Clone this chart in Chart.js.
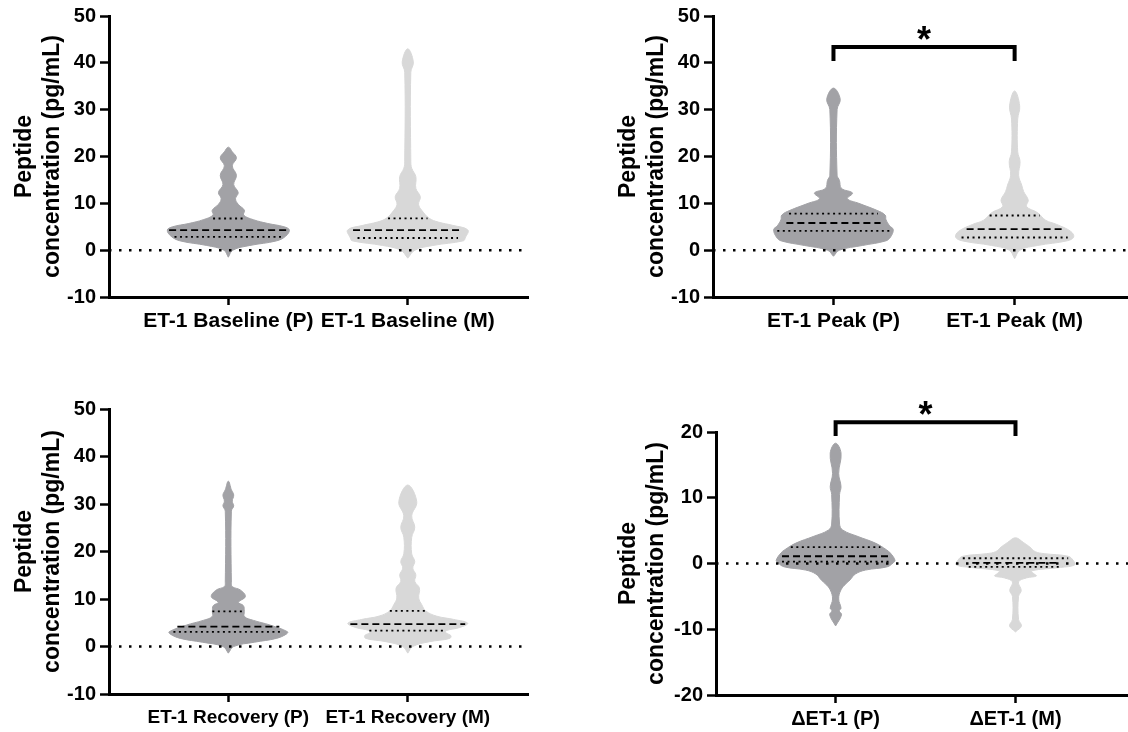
<!DOCTYPE html>
<html>
<head>
<meta charset="utf-8">
<script src="https://cdn.jsdelivr.net/npm/chart.js@4.4.1/dist/chart.umd.min.js"></script>
<style>
  html, body { margin: 0; padding: 0; background: #fff; overflow: hidden; }
  #wrap { position: relative; width: 1128px; height: 732px; overflow: hidden; }
  canvas { position: absolute; }
</style>
</head>
<body>
<div id="wrap">
  <canvas id="baselineChart" width="560" height="360" style="left:0;top:0"></canvas>
  <canvas id="peakChart" width="532" height="360" style="left:604px;top:0"></canvas>
  <canvas id="recoveryChart" width="560" height="340" style="left:0;top:392px"></canvas>
  <canvas id="deltaChart" width="532" height="340" style="left:604px;top:392px"></canvas>
</div>
<script>
// group names on the x axis
const baselineLabels = ['ET-1 Baseline (P)', 'ET-1 Baseline (M)'];
const peakLabels = ['ET-1 Peak (P)', 'ET-1 Peak (M)'];
const recoveryLabels = ['ET-1 Recovery (P)', 'ET-1 Recovery (M)'];
const deltaLabels = ['\u0394ET-1 (P)', '\u0394ET-1 (M)'];

// y tick values
const concTicks = [-10, 0, 10, 20, 30, 40, 50];
const deltaTicks = [-20, -10, 0, 10, 20];

// violin outlines: [value (pg/mL), half width of the density]
const baselineP = [[-1.5, 0], [0, 0.025], [1, 0.12], [2, 0.27], [3, 0.32], [4.3, 0.34], [5, 0.31], [5.7, 0.22], [6.5, 0.14],
  [7.5, 0.085], [8.5, 0.09], [9.8, 0.055], [11, 0.04], [12.3, 0.055], [14, 0.03], [16, 0.045], [18, 0.022], [19.7, 0.045],
  [21, 0.022], [22, 0]];
const baselineM = [[-1.7, 0], [0, 0.04], [1, 0.14], [2, 0.31], [2.6, 0.32], [4.3, 0.335], [5.3, 0.25], [6, 0.17], [6.8, 0.12],
  [8.5, 0.078], [9.8, 0.06], [11.4, 0.07], [13.2, 0.045], [15.7, 0.045], [17.5, 0.022], [19, 0.017], [38, 0.017],
  [40.2, 0.031], [43, 0]];
const peakP = [[-1.3, 0], [0, 0.033], [1, 0.16], [2, 0.29], [2.8, 0.315], [4.4, 0.33], [5.2, 0.31], [6.5, 0.29], [7.5, 0.285],
  [8.5, 0.24], [10, 0.14], [11, 0.077], [12.2, 0.105], [13.2, 0.044], [14.9, 0.033], [16, 0.02], [30, 0.02], [32.3, 0.037],
  [34.6, 0]];
const peakM = [[-1.8, 0], [0, 0.03], [1, 0.127], [2, 0.29], [2.8, 0.326], [4, 0.31], [5.5, 0.232], [6.4, 0.171], [8, 0.127],
  [9.3, 0.066], [10.7, 0.075], [12.5, 0.05], [13.9, 0.039], [16, 0.022], [18.9, 0.03], [21, 0.017], [28, 0.017],
  [30.8, 0.028], [34, 0]];
const recoveryP = [[-1.4, 0], [0, 0.03], [0.9, 0.145], [1.7, 0.267], [2.6, 0.323], [3.1, 0.33], [4.5, 0.234], [5.5, 0.14],
  [6.3, 0.09], [7.4, 0.089], [8.6, 0.084], [9.3, 0.056], [10.5, 0.095], [11.9, 0.067], [12.6, 0.022], [13.5, 0.017],
  [28.5, 0.017], [29.6, 0.03], [30.6, 0.022], [31.9, 0.03], [33, 0.017], [34.8, 0]];
const recoveryM = [[-1.4, 0], [0, 0.028], [1, 0.12], [1.7, 0.234], [2.3, 0.24], [2.9, 0.212], [3.35, 0.215], [4, 0.29],
  [4.9, 0.334], [5.7, 0.256], [6.4, 0.16], [7.5, 0.1], [8.8, 0.078], [10.2, 0.061], [12.3, 0.065], [13.7, 0.039],
  [15.1, 0.045], [16.5, 0.028], [17.9, 0.039], [19.5, 0.022], [23, 0.022], [25.1, 0.039], [27.5, 0.022], [30.5, 0.05],
  [34, 0]];
const deltaP = [[-9.5, 0], [-7.8, 0.033], [-7.2, 0.02], [-6.8, 0.03], [-5.4, 0.017], [-4, 0.03], [-3, 0.06], [-2.5, 0.08],
  [-1.6, 0.11], [-1, 0.166], [-0.5, 0.287], [0.1, 0.32], [0.5, 0.33], [1.6, 0.304], [2.1, 0.282], [3.1, 0.221],
  [4.1, 0.125], [5.1, 0.039], [6, 0.022], [10.5, 0.022], [11.7, 0.03], [13.7, 0.017], [16.8, 0.03], [18.3, 0]];
const deltaM = [[-10.4, 0], [-9.5, 0.033], [-8.5, 0.017], [-5, 0.017], [-4.1, 0.032], [-2.8, 0.017], [-2.2, 0.06],
  [-1.9, 0.116], [-1.5, 0.1], [-1.1, 0.09], [-0.6, 0.25], [-0.2, 0.33], [0.5, 0.32], [1.1, 0.293], [1.5, 0.16],
  [1.8, 0.11], [2.5, 0.08], [3.2, 0.044], [3.9, 0]];

// quartiles (Q1, median, Q3) and the violin half width at each
const baselinePQ = [2.85, 4.27, 6.76], baselinePQW = [0.30, 0.33, 0.085];
const baselineMQ = [2.6, 4.3, 6.8], baselineMQW = [0.28, 0.305, 0.11];
const peakPQ = [4.1, 5.8, 7.8], peakPQW = [0.31, 0.26, 0.245];
const peakMQ = [2.7, 4.5, 7.4], peakMQW = [0.293, 0.265, 0.138];
const recoveryPQ = [3.1, 4.2, 7.4], recoveryPQW = [0.306, 0.284, 0.089];
const recoveryMQ = [3.35, 4.7, 7.5], recoveryMQW = [0.214, 0.32, 0.1];
const deltaPQ = [0.3, 1.1, 2.5], deltaPQW = [0.298, 0.298, 0.249];
const deltaMQ = [-0.5, 0.1, 0.8], deltaMQW = [0.26, 0.24, 0.293];

// significance brackets: [leg bottom, bar height, star height]
const peakSig = [40.4, 43.4, 46.8];
const deltaSig = [19.4, 21.5, 24];

const FONT = '"Liberation Sans", Arial, Helvetica, sans-serif';
const P_COLOR = '#a2a2a6';
const M_COLOR = '#d8d8d8';
const X_MIN = -0.665, X_MAX = 1.67;

Chart.defaults.font.family = FONT;
Chart.defaults.font.weight = 'bold';
Chart.defaults.color = '#000';

function violinPoints(profile, center) {
  const right = profile.map(([v, w]) => ({x: center + w, y: v}));
  const left = profile.slice(0, -1).reverse().map(([v, w]) => ({x: center - w, y: v}));
  return right.concat(left);
}

function violinSet(profile, center, color) {
  return {
    data: violinPoints(profile, center),
    showLine: true, fill: 'shape', tension: 0.4,
    backgroundColor: color, borderColor: color, borderWidth: 1,
    pointRadius: 0, order: 5
  };
}

function quartileSets(q, w, center) {
  return q.map((v, i) => ({
    data: [{x: center - w[i], y: v}, {x: center + w[i], y: v}],
    showLine: true, fill: false, tension: 0,
    borderColor: '#000', borderWidth: 1.8,
    borderDash: i === 1 ? [7, 4] : [2, 3.5],
    pointRadius: 0, order: 3
  }));
}

const sigStar = {
  id: 'sigStar',
  afterDatasetsDraw(chart, args, opts) {
    if (!opts || !opts.text) return;
    const {ctx, scales} = chart;
    ctx.save();
    ctx.font = 'bold 36px ' + FONT;
    ctx.fillStyle = '#000';
    ctx.textAlign = 'center';
    ctx.textBaseline = 'alphabetic';
    ctx.fillText(opts.text, scales.x.getPixelForValue(opts.x), scales.y.getPixelForValue(opts.y) + 21);
    ctx.restore();
  }
};

function makePanel(id, cfg) {
  const datasets = [
    violinSet(cfg.p, 0, P_COLOR),
    violinSet(cfg.m, 1, M_COLOR),
    ...quartileSets(cfg.pq, cfg.pqw, 0),
    ...quartileSets(cfg.mq, cfg.mqw, 1),
    {
      // dotted line at zero
      data: [{x: X_MIN, y: 0}, {x: X_MAX, y: 0}],
      showLine: true, fill: false, tension: 0,
      borderColor: '#000', borderWidth: 2.5, borderDash: [2.5, 7.5],
      pointRadius: 0, order: 2
    }
  ];
  if (cfg.sig) {
    const [leg, bar] = cfg.sig;
    datasets.push({
      data: [{x: 0, y: leg}, {x: 0, y: bar}, {x: 1, y: bar}, {x: 1, y: leg}],
      showLine: true, fill: false, tension: 0, clip: false,
      borderColor: '#000', borderWidth: 4, borderJoinStyle: 'miter',
      pointRadius: 0, order: 1
    });
  }
  const canvas = document.getElementById(id);
  return new Chart(canvas, {
    type: 'scatter',
    data: {datasets},
    plugins: [sigStar],
    options: {
      responsive: false,
      animation: false,
      events: [],
      layout: {padding: {top: cfg.top, right: cfg.right, left: 0, bottom: 0}},
      plugins: {
        legend: {display: false},
        tooltip: {enabled: false},
        sigStar: cfg.sig ? {text: '*', x: 0.5, y: cfg.sig[2]} : {}
      },
      scales: {
        x: {
          type: 'linear', min: X_MIN, max: X_MAX,
          afterBuildTicks: s => { s.ticks = [0, 1].map(v => ({value: v})); },
          afterFit: s => { s.height = cfg.xHeight; },
          grid: {display: true, drawOnChartArea: false, tickLength: 8, tickWidth: 2.5, tickColor: '#000'},
          border: {display: true, color: '#000', width: 3},
          ticks: {
            callback: (v, i) => cfg.labels[i],
            font: {size: cfg.xFont, weight: 'bold'},
            maxRotation: 0, autoSkip: false, padding: 4
          }
        },
        y: {
          type: 'linear', min: cfg.yTicks[0], max: cfg.yTicks[cfg.yTicks.length - 1],
          afterBuildTicks: s => { s.ticks = cfg.yTicks.map(v => ({value: v})); },
          afterFit: s => { s.width = cfg.yWidth; },
          grid: {display: true, drawOnChartArea: false, tickLength: 9, tickWidth: 2.5, tickColor: '#000'},
          border: {display: true, color: '#000', width: 3},
          ticks: {font: {size: 20, weight: 'bold'}, padding: 4},
          title: {
            display: true,
            text: ['Peptide', 'concentration (pg/mL)'],
            font: {size: 23, weight: 'bold', lineHeight: 1.25},
            padding: {top: 10, bottom: 0}
          }
        }
      }
    }
  });
}

makePanel('baselineChart', {
  p: baselineP, m: baselineM, pq: baselinePQ, pqw: baselinePQW, mq: baselineMQ, mqw: baselineMQW,
  labels: baselineLabels, yTicks: concTicks, top: 16, right: 32, xHeight: 63, yWidth: 109, xFont: 21
});
makePanel('peakChart', {
  p: peakP, m: peakM, pq: peakPQ, pqw: peakPQW, mq: peakMQ, mqw: peakMQW, sig: peakSig,
  labels: peakLabels, yTicks: concTicks, top: 16, right: 0, xHeight: 63, yWidth: 109, xFont: 21
});
makePanel('recoveryChart', {
  p: recoveryP, m: recoveryM, pq: recoveryPQ, pqw: recoveryPQW, mq: recoveryMQ, mqw: recoveryMQW,
  labels: recoveryLabels, yTicks: concTicks, top: 17, right: 32, xHeight: 38, yWidth: 109, xFont: 19
});
makePanel('deltaChart', {
  p: deltaP, m: deltaM, pq: deltaPQ, pqw: deltaPQW, mq: deltaMQ, mqw: deltaMQW, sig: deltaSig,
  labels: deltaLabels, yTicks: deltaTicks, top: 40, right: 0, xHeight: 37, yWidth: 112, xFont: 20
});
</script>
</body>
</html>
